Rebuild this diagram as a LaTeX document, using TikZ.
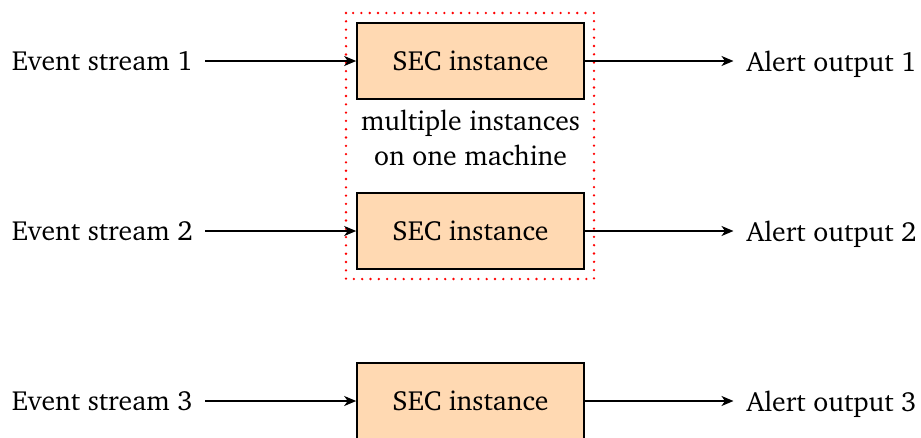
\documentclass[tikz,border=0pt]{standalone}
\usepackage[T1]{fontenc}
\usepackage{charter}
\usetikzlibrary{arrows.meta}
\begin{document}
\begin{tikzpicture}[x=1pt,y=-1pt,
  every node/.style={font=\fontsize{27.7}{35}\selectfont},
  secbox/.style={draw,line width=1.6pt,fill=orange!30,minimum width=227pt,minimum height=76pt,inner sep=0pt},
  lbl/.style={inner sep=0pt,text depth=0pt},
  arr/.style={line width=1.7pt,-{Stealth[length=12pt,width=10pt,inset=3.5pt]}}]
\useasboundingbox (0,0) rectangle (921,437);
\draw[red,line width=2.6pt,dash pattern=on 0pt off 8.3pt,line cap=round] (346,13) rectangle (594,279);
\node[secbox] (b1) at (470.5,61) {SEC instance};
\node[secbox] (b2) at (470.5,231) {SEC instance};
\node[secbox] (b3) at (470.5,401) {SEC instance};
\node[align=center,inner sep=0pt,anchor=base] (note) at (470.5,165) {multiple instances\\on one machine};
\foreach \i/\y in {1/61,2/231,3/401}{
  \node[lbl,anchor=east] (e\i) at (193,\y) {Event stream \i};
  \node[lbl,anchor=west] (o\i) at (746.5,\y) {Alert output \i};
  \draw[arr,shorten <=12pt] (e\i) -- (b\i);
  \draw[arr,shorten >=13pt] (b\i) -- (o\i);
}
\end{tikzpicture}
\end{document}
